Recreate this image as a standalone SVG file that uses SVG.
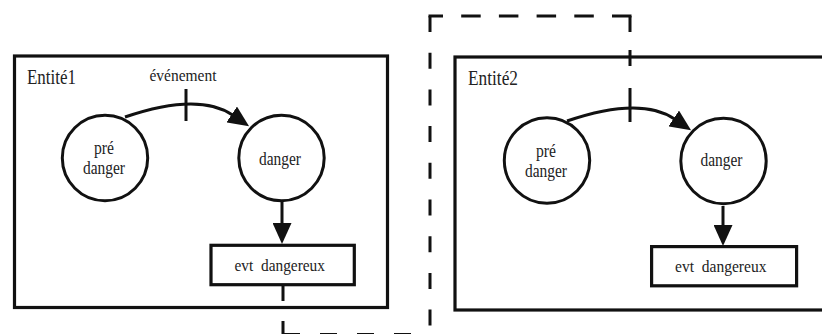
<svg xmlns="http://www.w3.org/2000/svg" width="822" height="334" viewBox="0 0 822 334">
<style>
.box{fill:none;stroke:#111;stroke-width:3.2}
.node{fill:#fff;stroke:#111;stroke-width:3}
.ln{fill:none;stroke:#111;stroke-width:3}
.dash{fill:none;stroke:#111;stroke-width:3}
.t{font-family:'Liberation Serif','Times New Roman',serif;font-size:17px;fill:#222}
.mid{text-anchor:middle}
.lbl{font-size:20px}
.c{font-size:18px}
</style>
<defs>
<marker id="arr" markerUnits="userSpaceOnUse" viewBox="0 0 21 19" markerWidth="21" markerHeight="19" refX="1" refY="9.5" orient="auto">
<path d="M0,0 L21,9.5 L0,19 Z" fill="#111"/>
</marker>
</defs>
<rect width="822" height="334" fill="#fff"/>
<g id="entite1">
<rect class="box" x="14.5" y="56" width="373" height="251.5"/>
<text class="t lbl" x="27" y="84" textLength="49" lengthAdjust="spacingAndGlyphs">Entité1</text>
</g>
<g id="entite2">
<rect class="box" x="455" y="57" width="400" height="253"/>
<text class="t lbl" x="468" y="85" textLength="50" lengthAdjust="spacingAndGlyphs">Entité2</text>
</g>
<g id="connectors">
<path class="ln" d="M125,117 Q198.5,92 232.5,115" marker-end="url(#arr)"/>
<line class="ln" x1="186" y1="89" x2="186" y2="121"/>
<text class="t mid" x="183" y="81" textLength="67" lengthAdjust="spacingAndGlyphs">événement</text>
<line class="ln" x1="282" y1="202" x2="282" y2="224" marker-end="url(#arr)"/>
<path class="ln" d="M567,121 Q640.5,96 674.5,119" marker-end="url(#arr)"/>
<line class="ln" x1="630" y1="88" x2="630" y2="122"/>
<line class="ln" x1="723" y1="206" x2="723" y2="226" marker-end="url(#arr)"/>
<line class="dash" x1="283" y1="286" x2="283" y2="336" stroke-dasharray="15 20"/>
<line class="dash" x1="283" y1="334.5" x2="430" y2="334.5" stroke-dasharray="17 20"/>
<line class="dash" x1="430" y1="16" x2="430" y2="334" stroke-dasharray="16 20.7"/>
<line class="dash" x1="631.5" y1="16" x2="428.5" y2="16" stroke-dasharray="19.5 18.2"/>
<line class="dash" x1="630" y1="16" x2="630" y2="70" stroke-dasharray="16 18"/>
</g>
<g id="predanger1">
<circle class="node" cx="105" cy="158" r="42.7"/>
<text class="t c mid" x="104" y="154" textLength="20" lengthAdjust="spacingAndGlyphs">pré</text>
<text class="t c mid" x="104" y="174" textLength="42" lengthAdjust="spacingAndGlyphs">danger</text>
</g>
<g id="danger1">
<circle class="node" cx="281.5" cy="158" r="42.7"/>
<text class="t c mid" x="280" y="165" textLength="42" lengthAdjust="spacingAndGlyphs">danger</text>
</g>
<g id="evt1">
<rect class="box" x="211" y="245.3" width="143.3" height="39.4"/>
<text class="t" x="234.5" y="270.7" xml:space="preserve" textLength="90.5" lengthAdjust="spacingAndGlyphs">evt  dangereux</text>
</g>
<g id="predanger2">
<circle class="node" cx="547" cy="160.5" r="42.7"/>
<text class="t c mid" x="546" y="156.5" textLength="20" lengthAdjust="spacingAndGlyphs">pré</text>
<text class="t c mid" x="546" y="176.5" textLength="42" lengthAdjust="spacingAndGlyphs">danger</text>
</g>
<g id="danger2">
<circle class="node" cx="723.5" cy="161" r="42.7"/>
<text class="t c mid" x="721.5" y="166" textLength="42" lengthAdjust="spacingAndGlyphs">danger</text>
</g>
<g id="evt2">
<rect class="box" x="651.6" y="246.6" width="145" height="39.2"/>
<text class="t" x="675" y="271.7" xml:space="preserve" textLength="91.5" lengthAdjust="spacingAndGlyphs">evt  dangereux</text>
</g>
</svg>
